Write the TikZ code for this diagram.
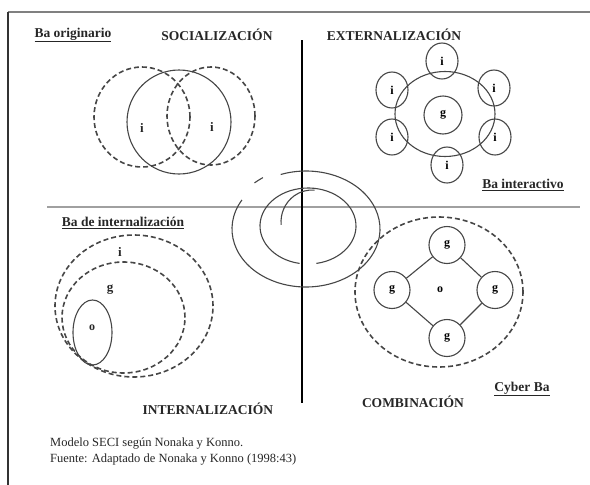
\documentclass[tikz,border=0pt]{standalone}
\usepackage{fontspec}
\setmainfont{Liberation Serif}
\usetikzlibrary{shapes.geometric,positioning}
\definecolor{lineColor}{RGB}{70,70,70}
\definecolor{axisColor}{RGB}{160,160,160}
\tikzset{ring/.append style={ellipse, draw=lineColor, line width=1.1pt, inner sep=0pt, font=\fontsize{12}{14}\selectfont\bfseries}}
\tikzset{dashring/.append style={ellipse, draw=lineColor, line width=1.6pt, dash pattern=on 5pt off 3pt, inner sep=0pt}}
\tikzset{heading/.append style={font=\fontsize{13.5}{15}\selectfont\bfseries, text=black!85}}
\tikzset{letter/.append style={font=\fontsize{13}{15}\selectfont\bfseries, text=black!85}}
\tikzset{caption/.append style={font=\fontsize{12.5}{15}\selectfont, anchor=west, inner sep=0pt, text=black!85}}

\begin{document}
\begin{tikzpicture}[x=1pt, y=-1pt, node distance=6pt]

    \useasboundingbox (0,0) rectangle (590,485);

    % Frame and axes
    \coordinate (f0) at (8,12);
    \coordinate (f1) at (590,12);
    \coordinate (f2) at (8,485);
    \draw [line width=2.5pt, color=gray] (f0) -- (f1);
    \draw [line width=2pt, color=black!80] (f0) -- (f2);
    \coordinate (h0) at (47,207);
    \coordinate (h1) at (580,207);
    \coordinate (v0) at (302,40);
    \coordinate (v1) at (302,403);
    \draw [line width=2pt, color=axisColor] (h0) -- (h1);
    \draw [line width=1.2pt, color=black] (v0) -- (v1);

    % Titles
    \node (t0) [heading] at (73,35) {\underline{Ba originario}};
    \node (t1) [heading] at (217,35) {SOCIALIZACIÓN};
    \node (t2) [heading] at (394,35) {EXTERNALIZACIÓN};
    \node (t3) [heading] at (523,185) {\underline{Ba interactivo}};
    \node (t4) [heading] at (123,223) {\underline{Ba de internalización}};
    \node (t5) [heading] at (208,409) {INTERNALIZACIÓN};
    \node (t6) [heading] at (413,402) {COMBINACIÓN};
    \node (t7) [heading] at (522,389) {\underline{Cyber Ba}};

    % Socializacion
    \node (s0) [dashring, minimum width=96pt, minimum height=100pt] at (142,117) {};
    \node (s1) [dashring, minimum width=88pt, minimum height=98pt] at (211,116) {};
    \node (s2) [ring, minimum width=104pt, minimum height=104pt] at (179,122) {};
    \node (s3) [letter] at (142,128) {i};
    \node (s4) [letter] at (212,127) {i};

    % Externalizacion
    \node (e0) [ring, minimum width=100pt, minimum height=85pt] at (445,114) {};
    \node (e1) [ring, minimum width=38pt, minimum height=38pt] at (443,115) {g};
    \node (e2) [ring, minimum width=32pt, minimum height=36pt] at (442,61) {i};
    \node (e3) [ring, minimum width=32pt, minimum height=36pt] at (392,90) {i};
    \node (e4) [ring, minimum width=32pt, minimum height=36pt] at (494,88) {i};
    \node (e5) [ring, minimum width=32pt, minimum height=36pt] at (392,137) {i};
    \node (e6) [ring, minimum width=32pt, minimum height=36pt] at (495,137) {i};
    \node (e7) [ring, minimum width=32pt, minimum height=36pt] at (447,165) {i};

    % Spiral in the middle
    \coordinate (m0) at (306,229);
    \coordinate (m1) at (308,226);
    \coordinate (m2) at (312,222);
    \begin{scope}[line width=1.1pt, draw=lineColor]
        \draw (m0) ++(150:74pt and 58pt) arc[start angle=150, end angle=470, x radius=74pt, y radius=58pt];
        \draw (m0) ++(124:77pt and 62pt) arc[start angle=124, end angle=132, x radius=77pt, y radius=62pt];
        \draw (m1) ++(280:48pt and 38pt) arc[start angle=280, end angle=620, x radius=48pt, y radius=38pt];
        \draw (m2) ++(185:31pt and 32pt) arc[start angle=185, end angle=85, x radius=31pt, y radius=32pt];
    \end{scope}

    % Internalizacion
    \node (n0) [dashring, minimum width=158pt, minimum height=142pt] at (134,306) {};
    \node (n1) [dashring, minimum width=123pt, minimum height=111pt] at (123.5,317.5) {};
    \node (n2) [ring, minimum width=39pt, minimum height=65pt] at (92.5,332.5) {};
    \node (n3) [letter] at (120,252) {i};
    \node (n4) [letter] at (110,290) {g};
    \node (n5) [letter, font=\fontsize{12}{14}\selectfont\bfseries] at (92,328) {o};

    % Combinacion
    \node (c0) [dashring, minimum width=168pt, minimum height=150pt] at (439,292) {};
    \node (c1) [ring, minimum width=36pt, minimum height=37pt] at (447,245) {g};
    \node (c2) [ring, minimum width=36pt, minimum height=37pt] at (392,290) {g};
    \node (c3) [ring, minimum width=36pt, minimum height=37pt] at (495,290) {g};
    \node (c4) [ring, minimum width=36pt, minimum height=37pt] at (447,338) {g};
    \node (c5) [font=\fontsize{12}{14}\selectfont\bfseries] at (440,290) {o};
    \begin{scope}[line width=1.1pt, draw=lineColor]
        \draw (c1) -- (c2);
        \draw (c1) -- (c3);
        \draw (c2) -- (c4);
        \draw (c3) -- (c4);
    \end{scope}

    % Caption
    \node (p0) [caption] at (50,443) {Modelo SECI según Nonaka y Konno.};
    \node (p1) [caption, below=5pt of p0.south west, anchor=north west] {Fuente: Adaptado de Nonaka y Konno (1998:43)};

\end{tikzpicture}
\end{document}
